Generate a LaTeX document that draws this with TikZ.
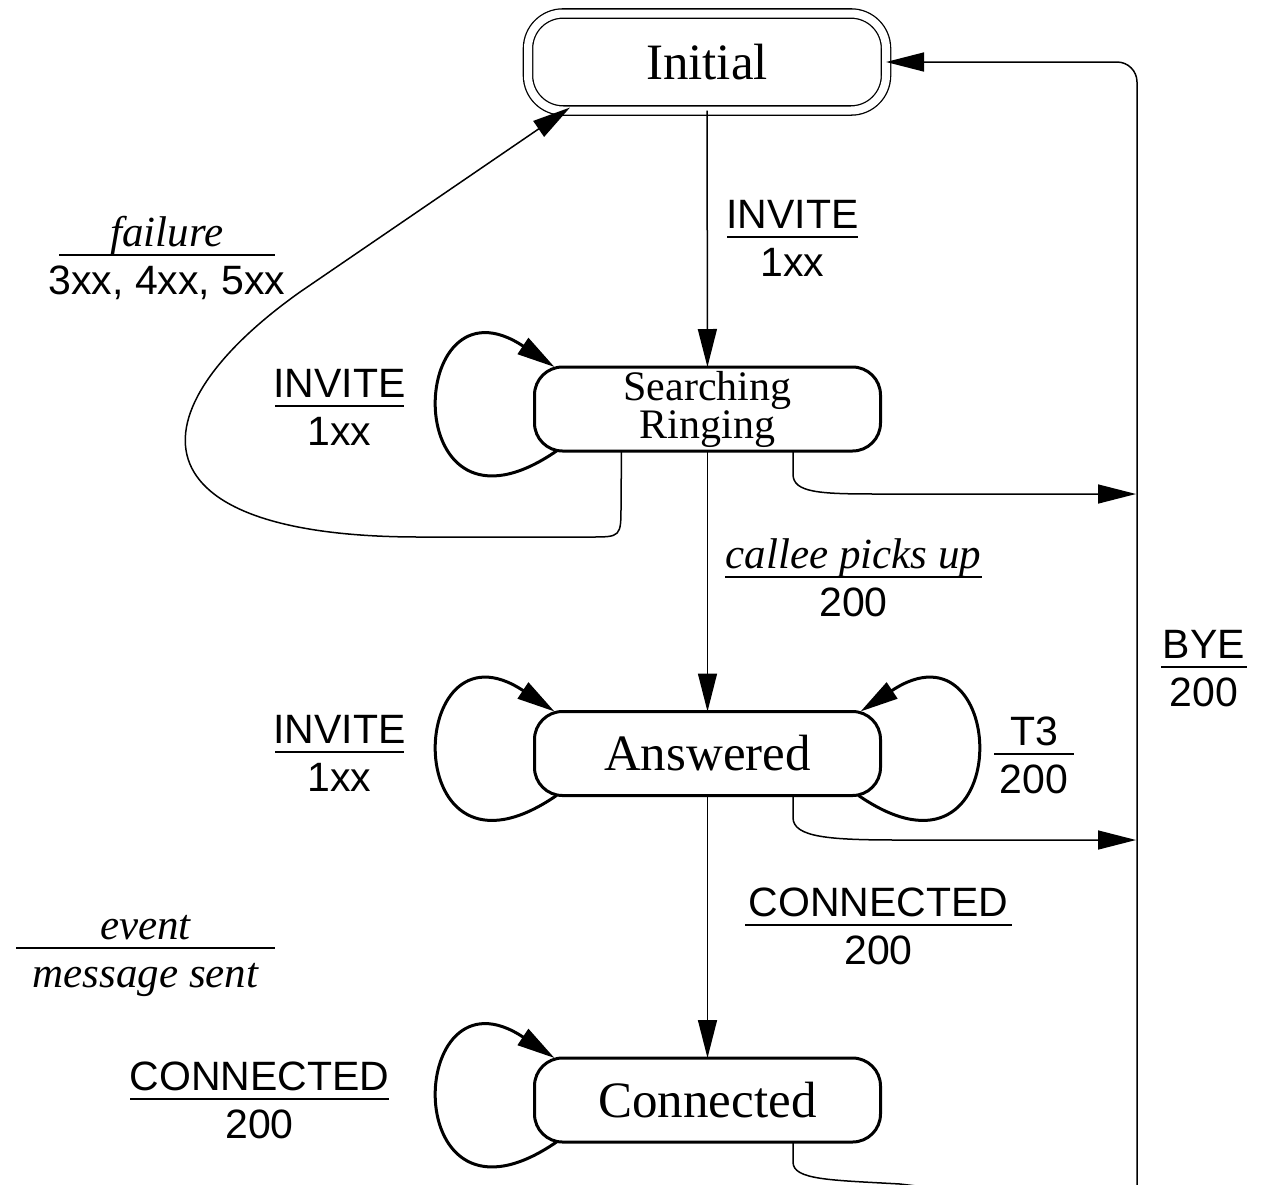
\documentclass[tikz,border=0pt]{standalone}
\usepackage{fontspec}
\setmainfont{Liberation Serif}
\setsansfont{Liberation Sans}
\usetikzlibrary{arrows.meta,calc}
\usetikzlibrary{positioning}
\tikzset{
    callstate/.style={
           rectangle,
           rounded corners=14pt,
           draw=black, line width=1.5pt,
           minimum width=173pt,
           minimum height=42pt,
           inner sep=1pt,
           outer sep=0pt,
           align=center,
           font=\fontsize{25.5}{28}\selectfont,
           },
    initstate/.style={
           callstate,
           rounded corners=17.5pt,
           line width=0.65pt,
           double, double distance=4pt,
           minimum width=179pt,
           minimum height=48.5pt,
           },
    pil/.style={
           -{Triangle[length=19pt,width=9.5pt]},
           line width=0.75pt,
           },
    loopy/.style={
           pil,
           line width=1.5pt,
           },
    evline/.style={line width=0.8pt},
    evtext/.style={
           anchor=base,
           inner sep=0pt,
           font=\sffamily\fontsize{20.5}{24}\selectfont,
           },
}
% event over message sent
\newcommand{\evit}[1]{{\rmfamily\itshape\fontsize{21.5}{24}\selectfont #1}}
\newcommand{\evmsg}[6]{%
  \coordinate (#1) at (#2,#3);
  \draw[evline] ($(#1)+(-#4,0)$) -- ($(#1)+(#4,0)$);
  \node[evtext] (#1-ev) at ($(#1)+(0,-9)$) {#5};
  \node[evtext] (#1-msg) at ($(#1)+(0,39)$) {#6};
}

\begin{document}
\begin{tikzpicture}[x=0.5pt,y=-0.5pt]
\useasboundingbox (0,0) rectangle (1264,1184);
\node[initstate] (init) at (707,62) {Initial};
\node[callstate, font=\fontsize{21}{19}\selectfont] (search) at (707.5,409) {Searching\\Ringing};
\node[callstate] (ans) at (707.5,753.5) {Answered};
\node[callstate] (conn) at (707.5,1100) {Connected};
\coordinate (bye1) at (1136,494);
\coordinate (bye2) at (1136,840);
% main line
\path (init) edge[pil] (search);
\path (search) edge[pil] (ans);
\path (ans) edge[pil] (conn);
% loops
\draw[loopy] ($(search.south west)+(22,0)$) .. controls +(-160,110) and +(-150,-100) .. ($(search.north west)+(20,0)$);
\draw[loopy] ($(ans.south west)+(22,0)$) .. controls +(-160,110) and +(-150,-100) .. ($(ans.north west)+(20,0)$);
\draw[loopy] ($(ans.south east)+(-22,0)$) .. controls +(160,110) and +(150,-100) .. ($(ans.north east)+(-20,0)$);
\draw[loopy] ($(conn.south west)+(22,0)$) .. controls +(-160,110) and +(-150,-100) .. ($(conn.north west)+(20,0)$);
% failure back to initial
\draw[pil] ($(search.south west)+(87,0)$) -- (621,505) .. controls (621,537) .. (590,537) -- (420,537)
    .. controls (131,537) and (131,412) .. (300,292) -- ($(init.south west)+(42,-3)$);
% BYE
\draw[pil] ($(search.south)+(85.5,0)$) -- ++(0,23) .. controls +(0,19) and (820,494) .. (880,494) -- (bye1);
\draw[pil] ($(ans.south)+(85.5,0)$) -- ++(0,22) .. controls +(0,20) and (830,840) .. (900,840) -- (bye2);
\draw[pil] ($(conn.south)+(85.5,0)$) -- ++(0,20) .. controls +(0,18) and (830,1180) .. (900,1184)
    [rounded corners=10pt] -- (1000,1196) -- (1137,1212) -- (1137,62) -- (init.east);
% labels
\evmsg{inv1}{792.5}{237}{65.5}{INVITE}{1xx}
\evmsg{fail}{167}{255}{108}{\evit{failure}}{3xx, 4xx, 5xx}
\evmsg{inv2}{339.5}{406}{64.5}{INVITE}{1xx}
\evmsg{pick}{853.5}{577}{128.5}{\evit{callee picks up}}{200}
\evmsg{inv3}{339.5}{752}{64.5}{INVITE}{1xx}
\evmsg{tim}{1034}{754}{40}{T3}{200}
\evmsg{bye}{1204}{667}{43}{BYE}{200}
\evmsg{con1}{878.5}{925}{133.5}{CONNECTED}{200}
\evmsg{key}{145.5}{948}{129.5}{\evit{event}}{\evit{message sent}}
\evmsg{con2}{259.5}{1099}{129.5}{CONNECTED}{200}
\end{tikzpicture}
\end{document}
